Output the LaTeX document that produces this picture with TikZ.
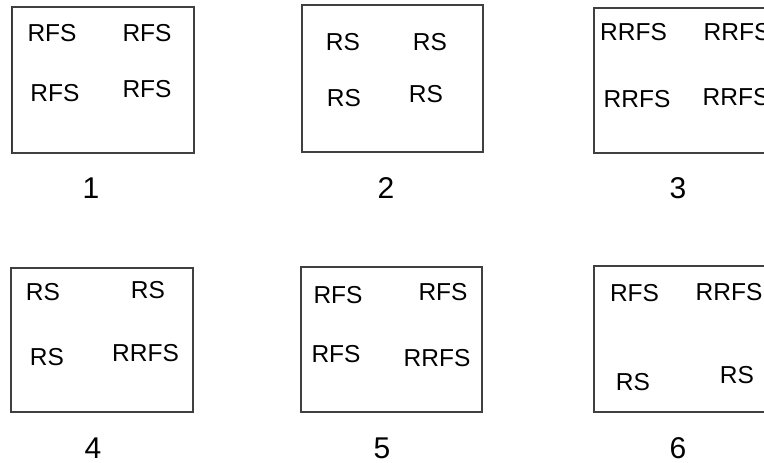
\documentclass[tikz,border=0pt]{standalone}
\usepackage{fontspec}
\setmainfont{Liberation Sans}
\begin{document}
\begin{tikzpicture}[x=1pt,y=-1pt,
  panel/.style={draw=black!75,line width=1.3pt,inner sep=0pt,minimum width=#1},
  lab/.style={inner sep=0pt,font=\fontsize{24.5}{28}\selectfont},
  num/.style={inner sep=0pt,font=\fontsize{30}{34}\selectfont}]
\useasboundingbox (0,0) rectangle (764,463);
\clip (0,0) rectangle (764,463);
% panels
\node[panel=182pt,minimum height=146pt] (b1) at (103,80) {};
\node[panel=181pt,minimum height=147pt] (b2) at (392.5,78.5) {};
\node[panel=182pt,minimum height=145pt] (b3) at (685,80.5) {};
\node[panel=182pt,minimum height=144pt] (b4) at (102,340) {};
\node[panel=181pt,minimum height=145pt] (b5) at (391.5,339.5) {};
\node[panel=182pt,minimum height=146pt] (b6) at (685,339) {};
\draw[black!80,line width=1.6pt] (b1.south west) -- (b1.north west);
% panel 1
\node[lab] (t11) at (52,33) {RFS};
\node[lab] (t12) at (147,33) {RFS};
\node[lab] (t13) at (55,93) {RFS};
\node[lab] (t14) at (147,89) {RFS};
\node[num] (n1) at (91,188) {1};
% panel 2
\node[lab] (t21) at (343,42) {RS};
\node[lab] (t22) at (430,42) {RS};
\node[lab] (t23) at (344,98) {RS};
\node[lab] (t24) at (426,94) {RS};
\node[num] (n2) at (386,188) {2};
% panel 3
\node[lab] (t31) at (633.5,32) {RRFS};
\node[lab] (t32) at (737,32) {RRFS};
\node[lab] (t33) at (637,99) {RRFS};
\node[lab] (t34) at (736,97) {RRFS};
\node[num] (n3) at (678,188) {3};
% panel 4
\node[lab] (t41) at (43,292) {RS};
\node[lab] (t42) at (148,290) {RS};
\node[lab] (t43) at (47,357) {RS};
\node[lab] (t44) at (145.5,353) {RRFS};
\node[num] (n4) at (93,448) {4};
% panel 5
\node[lab] (t51) at (338,295) {RFS};
\node[lab] (t52) at (443,292) {RFS};
\node[lab] (t53) at (336,354) {RFS};
\node[lab] (t54) at (437,358) {RRFS};
\node[num] (n5) at (382,448) {5};
% panel 6
\node[lab] (t61) at (634.5,293) {RFS};
\node[lab] (t62) at (729,292) {RRFS};
\node[lab] (t63) at (633,382) {RS};
\node[lab] (t64) at (737,375) {RS};
\node[num] (n6) at (678,448) {6};
\end{tikzpicture}
\end{document}
